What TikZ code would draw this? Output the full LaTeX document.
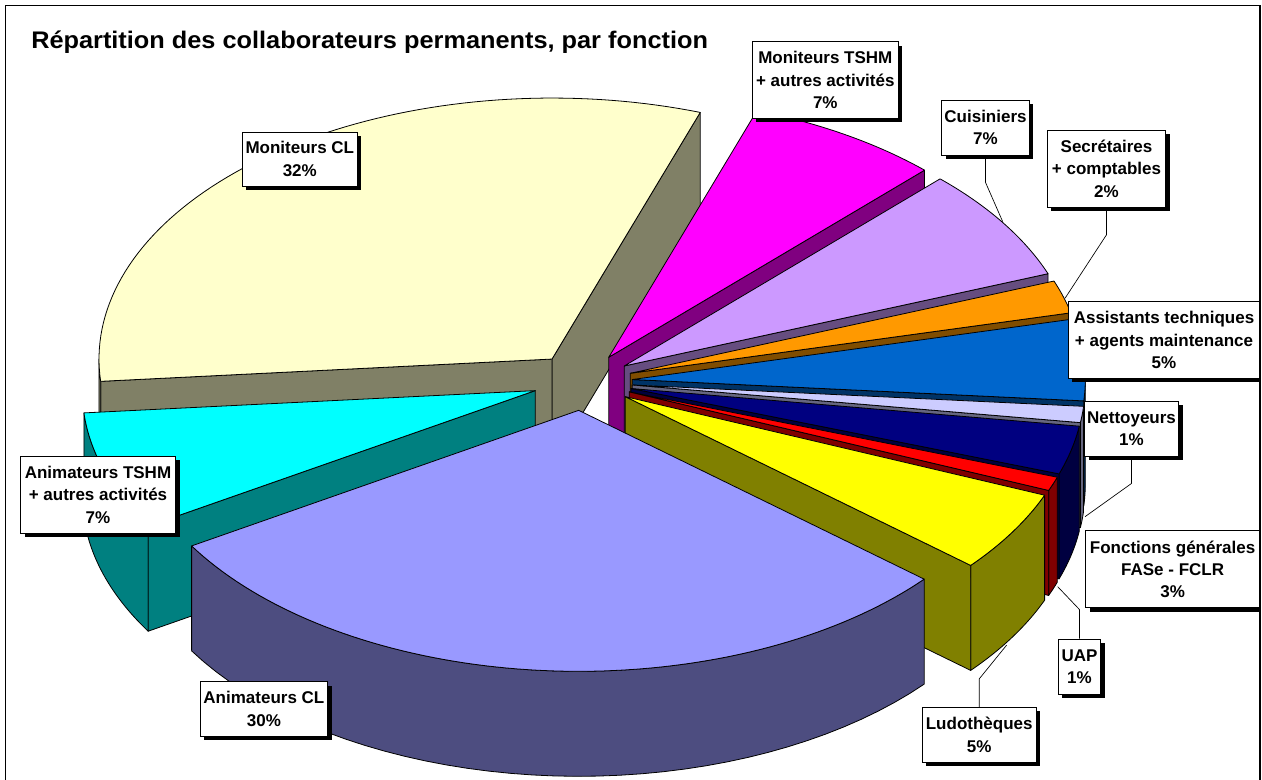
\documentclass[tikz,border=0pt]{standalone}
\usepackage{fontspec}
\setmainfont{Liberation Sans}
\newfontfamily\titlefont[FakeStretch=1.055]{Liberation Sans}
\usetikzlibrary{shadows}
\definecolor{mcT}{HTML}{FFFFCC}\definecolor{mcS}{HTML}{808066}
\definecolor{cyT}{HTML}{00FFFF}\definecolor{cyS}{HTML}{008080}
\definecolor{acT}{HTML}{9999FF}\definecolor{acS}{HTML}{4D4D80}
\definecolor{luT}{HTML}{FFFF00}\definecolor{luS}{HTML}{808000}
\definecolor{uaT}{HTML}{FF0000}\definecolor{uaS}{HTML}{800000}
\definecolor{foT}{HTML}{000080}\definecolor{foS}{HTML}{000040}
\definecolor{neT}{HTML}{CCCCFF}\definecolor{neS}{HTML}{666680}
\definecolor{asT}{HTML}{0066CC}\definecolor{asS}{HTML}{003366}
\definecolor{seT}{HTML}{FF9900}\definecolor{seS}{HTML}{804D00}
\definecolor{cuT}{HTML}{CC99FF}\definecolor{cuS}{HTML}{664D80}
\definecolor{mgT}{HTML}{FF00FF}\definecolor{mgS}{HTML}{800080}
% pie geometry (pixel units, y downwards)
\newcommand{\pcSet}[2]{%
  \pgfmathsetmacro\pcA{#1}\pgfmathsetmacro\pcB{#2}%
  \pgfmathsetmacro\pcM{(#1+#2)/2}%
  \pgfmathsetmacro\pcX{582.6+0.11*453*cos(\pcM)}%
  \pgfmathsetmacro\pcY{381.7-0.11*261*sin(\pcM)}}
\newcommand{\pcRad}[2]{%
  \filldraw[fill=#2,edge] (\pcX,\pcY) -- ({\pcX+453*cos(#1)},{\pcY-261*sin(#1)})
    -- ++(0,105) -- (\pcX,{\pcY+105}) -- cycle;}
\newcommand{\pcCurve}[3]{%
  \filldraw[fill=#3,edge]
    plot[domain=#1:#2,samples=40,variable=\t] ({\pcX+453*cos(\t)},{\pcY-261*sin(\t)})
    -- plot[domain=#2:#1,samples=40,variable=\t] ({\pcX+453*cos(\t)},{\pcY+105-261*sin(\t)})
    -- cycle;}
\newcommand{\pcTop}[1]{%
  \filldraw[fill=#1,edge] (\pcX,\pcY)
    -- plot[domain=\pcA:\pcB,samples=80,variable=\t] ({\pcX+453*cos(\t)},{\pcY-261*sin(\t)})
    -- cycle;}
\begin{document}
\begin{tikzpicture}[x=0.75pt,y=-0.75pt,
  edge/.style={draw=black,line width=0.6pt,line join=round},
  lab/.style={draw=black,fill=white,line width=0.6pt,align=center,inner sep=0pt,
    font=\fontsize{12.75}{16.7}\selectfont\bfseries,
    drop shadow={shadow xshift=3pt,shadow yshift=-3pt,opacity=1,fill=black}},
  leader/.style={draw=black,line width=0.5pt}]
\useasboundingbox (0,0) rectangle (1262,780);
\fill[white] (0,0) rectangle (1262,780);

% Moniteurs CL
\pcSet{70.9}{184.9}
\pcRad{70.9}{mcS}\pcRad{184.9}{mcS}\pcCurve{180}{184.9}{mcS}\pcTop{mcT}
% Animateurs TSHM
\pcSet{184.9}{211.3}
\pcCurve{184.9}{211.3}{cyS}\pcRad{211.3}{cyS}\pcTop{cyT}
% Moniteurs TSHM
\pcSet{45.8}{70.9}
\pcRad{45.8}{mgS}\pcTop{mgT}
% Cuisiniers
\pcSet{20.7}{45.8}
\pcRad{20.7}{cuS}\pcTop{cuT}
% Secretaires
\pcSet{13.4}{20.7}
\pcRad{13.4}{seS}\pcTop{seT}
% Assistants
\pcSet{-4.7}{13.4}
\pcCurve{-4.7}{0}{asS}\pcRad{-4.7}{asS}\pcTop{asT}
% Nettoyeurs
\pcSet{-8.3}{-4.7}
\pcCurve{-8.3}{-4.7}{neS}\pcRad{-8.3}{neS}\pcTop{neT}
% Fonctions generales
\pcSet{-19.1}{-8.3}
\pcCurve{-19.1}{-8.3}{foS}\pcRad{-19.1}{foS}\pcTop{foT}
% UAP
\pcSet{-22.2}{-19.1}
\pcCurve{-22.2}{-19.1}{uaS}\pcRad{-22.2}{uaS}\pcTop{uaT}
% Ludotheques
\pcSet{-40.3}{-22.2}
\pcCurve{-40.3}{-22.2}{luS}\pcRad{-40.3}{luS}\pcTop{luT}
% Animateurs CL
\pcSet{211.3}{319.7}
\pcCurve{211.3}{319.7}{acS}\pcTop{acT}

% leader end points on the pie
\coordinate (pcu) at (1002.7,221.7);
\coordinate (pse) at (1065,298.3);
\coordinate (pne) at (1085,516.7);
\coordinate (pua) at (1057.7,586.7);
\coordinate (plu) at (1006.7,645);

\node[anchor=base west,inner sep=0pt,font=\titlefont\fontsize{18}{20}\selectfont\bfseries] (title)
  at (31,48.3) {Répartition des collaborateurs permanents, par fonction};

\begin{scope}
\clip (5.5,5.5) rectangle (1260,790);
\node[lab,minimum width=146*0.75pt,minimum height=76.6*0.75pt] (mtshm) at (825.3,80) {Moniteurs TSHM\\+ autres activités\\7\%};
\node[lab,minimum width=87.6*0.75pt,minimum height=55*0.75pt] (cuis) at (985.5,127.5) {Cuisiniers\\7\%};
\node[lab,minimum width=118.4*0.75pt,minimum height=77.3*0.75pt] (secr) at (1106.5,168.7) {Secrétaires\\+ comptables\\2\%};
\node[lab,minimum width=191.6*0.75pt,minimum height=76.6*0.75pt] (assi) at (1164,340) {Assistants techniques\\+ agents maintenance\\5\%};
\node[lab,minimum width=94*0.75pt,minimum height=54.7*0.75pt] (nett) at (1131.5,428.7) {Nettoyeurs\\1\%};
\node[lab,minimum width=173.6*0.75pt,minimum height=77*0.75pt] (fonc) at (1172.6,569.2) {Fonctions générales\\FASe - FCLR\\3\%};
\node[lab,minimum width=42.4*0.75pt,minimum height=55*0.75pt] (uap) at (1079.5,666.5) {UAP\\1\%};
\node[lab,minimum width=113.7*0.75pt,minimum height=55*0.75pt] (ludo) at (979.2,734.8) {Ludothèques\\5\%};
\node[lab,minimum width=155*0.75pt,minimum height=77.3*0.75pt] (atshm) at (98,494.7) {Animateurs TSHM\\+ autres activités\\7\%};
\node[lab,minimum width=127.8*0.75pt,minimum height=54.3*0.75pt] (ancl) at (263.9,708.9) {Animateurs CL\\30\%};
\node[lab,minimum width=114.8*0.75pt,minimum height=54*0.75pt] (mocl) at (299.8,159) {Moniteurs CL\\32\%};
\end{scope}

\draw[leader] (cuis.south) -- ++(0,27) -- (pcu);
\draw[leader] (secr.south) -- ++(0,27) -- (pse);
\draw[leader] (nett.south) -- ++(0,27) -- (pne);
\draw[leader] (uap.north) -- ++(0,-29) -- (pua);
\draw[leader] (ludo.north) -- ++(0,-28) -- (plu);

\draw[line width=1pt] (5.5,5.5) rectangle (1260,790);
\end{tikzpicture}
\end{document}
